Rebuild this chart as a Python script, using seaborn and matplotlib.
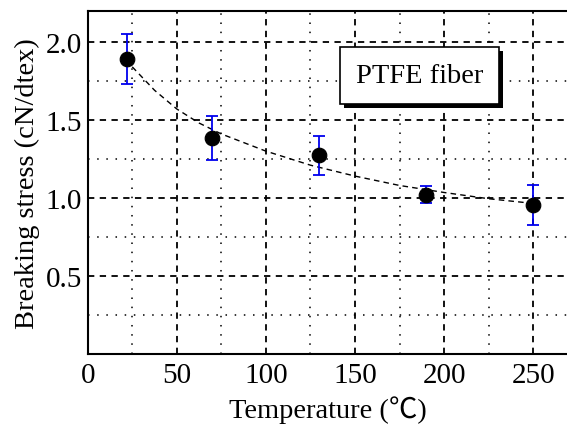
import matplotlib
matplotlib.use('Agg')
import matplotlib.pyplot as plt
import matplotlib.patheffects as pe
from matplotlib.ticker import MultipleLocator
import seaborn as sns
import pandas as pd

# Measured breaking stress
temps = [22, 70, 130, 190, 250]
stress = [1.89, 1.385, 1.275, 1.02, 0.957]
stress_err = [0.16, 0.14, 0.125, 0.055, 0.128]

# Fitted trend curve
fit_x = [25, 37.5, 50, 62.5, 75, 100, 125, 150, 175, 200, 225, 250]
fit_y = [1.84, 1.69, 1.57, 1.48, 1.41, 1.30, 1.21, 1.14, 1.08, 1.035, 0.995, 0.965]

pts = pd.DataFrame({'temp': temps, 'stress': stress})
fit = pd.DataFrame({'temp': fit_x, 'stress': fit_y})

sns.set_theme(style='white')
plt.rcParams['font.family'] = ['Liberation Serif', 'Noto Sans CJK JP', 'DejaVu Serif']

fig = plt.figure(figsize=(5.67, 4.27), dpi=100)
ax = fig.add_axes([0.1547, 0.1686, 0.8487, 0.804])

# Grid
ax.xaxis.set_major_locator(MultipleLocator(50))
ax.xaxis.set_minor_locator(MultipleLocator(25))
ax.yaxis.set_major_locator(MultipleLocator(0.5))
ax.yaxis.set_minor_locator(MultipleLocator(0.25))
ax.grid(which='major', color='black', linestyle=(0, (3.5, 3)), linewidth=1.3)
ax.grid(which='minor', color='black', linestyle=(0, (1, 5)), linewidth=1.1)
ax.set_axisbelow(True)

# Fit curve, error bars and points
sns.lineplot(data=fit, x='temp', y='stress', ax=ax, color='black',
             linewidth=1.0, linestyle=(0, (4, 3)), zorder=3)
ax.errorbar(temps, stress, yerr=stress_err, fmt='none', ecolor='#0000ee',
            elinewidth=1.3, capsize=4, capthick=1.3, zorder=4)
sns.scatterplot(data=pts, x='temp', y='stress', ax=ax, color='black',
                s=110, edgecolor='black', zorder=5)

ax.set_xlim(0, 270)
ax.set_ylim(0, 2.2)
ax.set_xticks([0, 50, 100, 150, 200, 250])
ax.set_yticks([0.5, 1.0, 1.5, 2.0])
ax.set_yticklabels(['0.5', '1.0', '1.5', '2.0'])
ax.tick_params(axis='both', which='both', length=0, labelsize=21, colors='black')
ax.tick_params(axis='x', pad=6)
ax.tick_params(axis='y', pad=4)

for s in ['left', 'bottom', 'top']:
    ax.spines[s].set_color('black')
    ax.spines[s].set_linewidth(1.5)
ax.spines['right'].set_visible(False)

ax.set_xlabel('Temperature (℃)', fontsize=20.5, color='black', labelpad=5)
ax.set_ylabel('Breaking stress (cN/dtex)', fontsize=20.5, color='black', labelpad=4)

# Label box with shadow
t = ax.text(186, 1.785, 'PTFE fiber', fontsize=20.5, ha='center', va='center',
            color='black', zorder=6,
            bbox=dict(boxstyle='square,pad=0.55', fc='white', ec='black', lw=1.2))
t.get_bbox_patch().set_path_effects([
    pe.SimplePatchShadow(offset=(3, -3), shadow_rgbFace='black', alpha=1.0),
    pe.Normal()])

fig.savefig('out.png', dpi=100)
